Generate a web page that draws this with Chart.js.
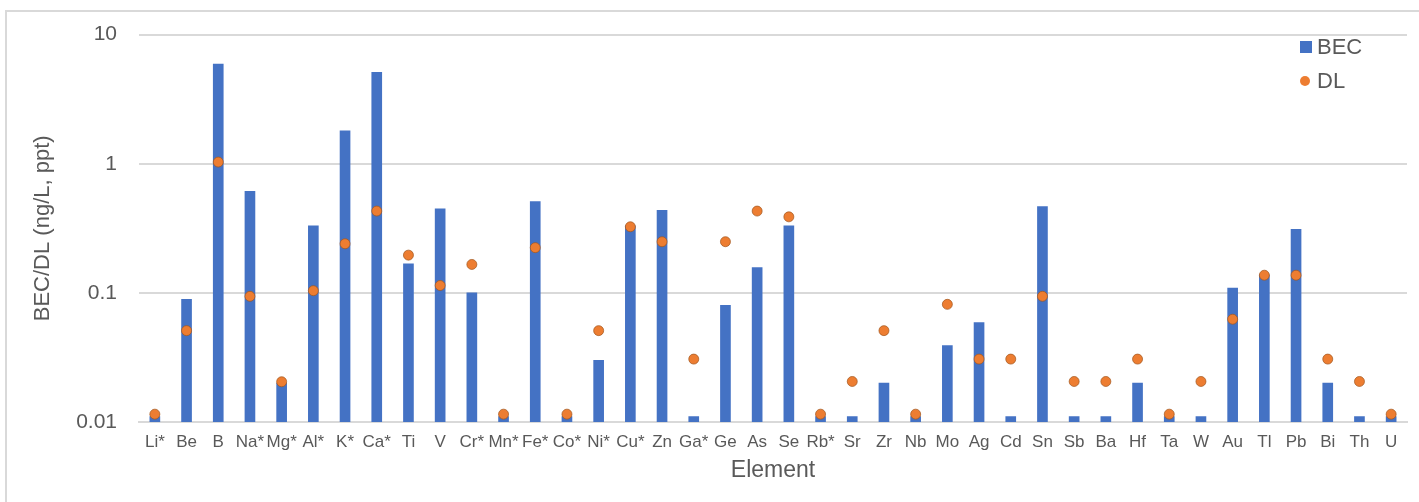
<!DOCTYPE html>
<html>
<head>
<meta charset="utf-8">
<script src="https://cdn.jsdelivr.net/npm/chart.js@4.4.0/dist/chart.umd.min.js"></script>
<style>
  html, body { margin: 0; padding: 0; background: #fff; overflow: hidden; }
  #wrap { position: relative; width: 1419px; height: 502px; }
  #frame { position: absolute; left: 5px; top: 10px; width: 1500px; height: 600px;
           border: 2px solid #d9d9d9; box-sizing: border-box; }
  #chartBox { position: absolute; left: 0; top: 0; width: 1419px; height: 502px; }
  .legend { position: absolute; font-family: "Liberation Sans", Arial, sans-serif;
            font-size: 22px; color: #595959; line-height: 1; }
  .legend .item { position: absolute; left: 0; white-space: nowrap; }
  .legend .swatch { position: absolute; }
</style>
</head>
<body>
<div id="wrap">
  <div id="frame"></div>
  <div id="chartBox"><canvas id="becChart" width="1419" height="502"></canvas></div>
  <div class="legend" id="legend" style="left:1300px; top:36px;"></div>
</div>
<script>
// categories
const elements = ["Li*", "Be", "B", "Na*", "Mg*", "Al*", "K*", "Ca*", "Ti", "V",
    "Cr*", "Mn*", "Fe*", "Co*", "Ni*", "Cu*", "Zn", "Ga*", "Ge", "As",
    "Se", "Rb*", "Sr", "Zr", "Nb", "Mo", "Ag", "Cd", "Sn", "Sb",
    "Ba", "Hf", "Ta", "W", "Au", "Tl", "Pb", "Bi", "Th", "U"];

// background equivalent concentration (bars)
const becValues = [0.011, 0.089, 5.9, 0.61, 0.020, 0.33, 1.80, 5.1, 0.168, 0.448,
    0.100, 0.011, 0.51, 0.011, 0.030, 0.33, 0.436, 0.011, 0.080, 0.157,
    0.33, 0.011, 0.011, 0.020, 0.011, 0.039, 0.059, 0.011, 0.465, 0.011,
    0.011, 0.020, 0.011, 0.011, 0.109, 0.138, 0.31, 0.020, 0.011, 0.011];

// detection limits (dots)
const dlValues = [0.0115, 0.051, 1.03, 0.094, 0.0205, 0.104, 0.24, 0.43, 0.196, 0.114,
    0.166, 0.0115, 0.224, 0.0115, 0.051, 0.325, 0.249, 0.0307, 0.249, 0.43,
    0.388, 0.0115, 0.0206, 0.051, 0.0115, 0.0815, 0.0307, 0.0307, 0.094, 0.0206,
    0.0206, 0.0307, 0.0115, 0.0206, 0.0625, 0.137, 0.137, 0.0307, 0.0206, 0.0115];

const yTicks = [0.01, 0.1, 1, 10];

const FONT = '"Liberation Sans", Arial, sans-serif';
const TEXT = '#595959';
const GRID = '#d9d9d9';

window.addEventListener('DOMContentLoaded', () => {
    const ctx = document.getElementById('becChart').getContext('2d');

    const chart = new Chart(ctx, {
        type: 'bar',
        data: {
            labels: elements,
            datasets: [
                {
                    label: 'BEC',
                    data: becValues,
                    backgroundColor: '#4472C4',
                    barThickness: 10,
                    order: 2
                },
                {
                    label: 'DL',
                    type: 'line',
                    data: dlValues,
                    showLine: false,
                    pointRadius: 5,
                    pointBackgroundColor: '#ED7D31',
                    pointBorderColor: 'rgba(160,85,30,0.7)',
                    pointBorderWidth: 1,
                    order: 1
                }
            ]
        },
        options: {
            responsive: false,
            animation: false,
            layout: { padding: { left: 0, right: 12, top: 33, bottom: 0 } },
            plugins: {
                legend: { display: false },
                tooltip: { enabled: false }
            },
            scales: {
                x: {
                    type: 'category',
                    grid: { display: false },
                    border: { display: true, color: GRID, width: 2 },
                    ticks: {
                        color: TEXT,
                        font: { family: FONT, size: 17 },
                        padding: 2,
                        maxRotation: 0,
                        autoSkip: false
                    },
                    title: {
                        display: true,
                        text: 'Element',
                        color: TEXT,
                        font: { family: FONT, size: 23 },
                        padding: { top: 0, bottom: 18 }
                    },
                    afterFit: (scale) => { scale.height = 80; }
                },
                y: {
                    type: 'logarithmic',
                    min: 0.01,
                    max: 10,
                    grid: { color: GRID, lineWidth: 2, drawTicks: false },
                    border: { display: false },
                    afterBuildTicks: (scale) => {
                        scale.ticks = yTicks.map(v => ({ value: v }));
                    },
                    ticks: {
                        color: TEXT,
                        font: { family: FONT, size: 21 },
                        padding: 22,
                        callback: (v) => String(v)
                    },
                    title: {
                        display: true,
                        text: 'BEC/DL (ng/L, ppt)',
                        color: TEXT,
                        font: { family: FONT, size: 22 },
                        padding: { top: 30, bottom: 0 }
                    },
                    afterFit: (scale) => { scale.width = 139; }
                }
            }
        }
    });

    // legend in html
    const legend = document.getElementById('legend');
    chart.data.datasets.forEach((ds, i) => {
        const top = i * 34;
        const sw = document.createElement('div');
        sw.className = 'swatch';
        if (ds.type === 'line') {
            sw.style.cssText = `left:0px; top:${top + 6}px; width:10px; height:10px; border-radius:50%; background:${ds.pointBackgroundColor};`;
        } else {
            sw.style.cssText = `left:0px; top:${top + 5}px; width:12px; height:12px; background:${ds.backgroundColor};`;
        }
        const item = document.createElement('div');
        item.className = 'item';
        item.style.left = '17px';
        item.style.top = top + 'px';
        item.textContent = ds.label;
        legend.appendChild(sw);
        legend.appendChild(item);
    });
});
</script>
</body>
</html>
